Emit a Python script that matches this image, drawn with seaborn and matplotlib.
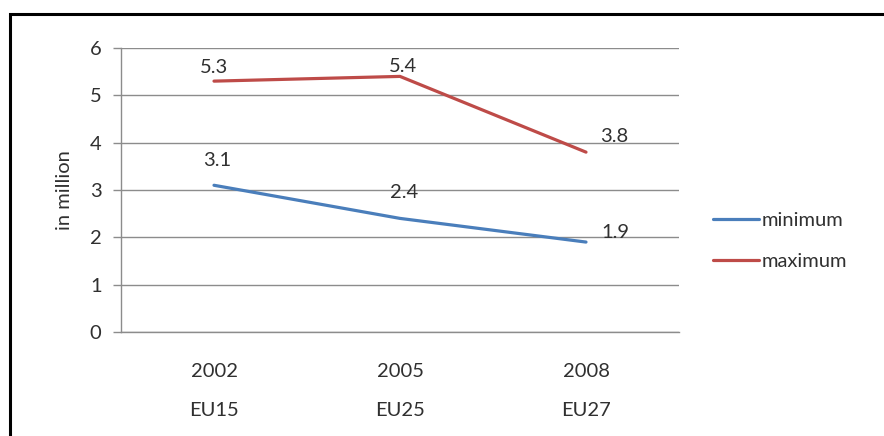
import matplotlib
matplotlib.use("Agg")
import matplotlib.pyplot as plt
from matplotlib.patches import Rectangle
import pandas as pd
import seaborn as sns

# Data
years = ["2002", "2005", "2008"]
groups = ["EU15", "EU25", "EU27"]
minimum = [3.1, 2.4, 1.9]
maximum = [5.3, 5.4, 3.8]
series_names = ["minimum", "maximum"]

# label offsets in points (dx, dy) for each value label
min_offsets = [(2, 18), (3, 19), (21, 7)]
max_offsets = [(0, 10), (2, 7), (20, 11)]

sns.set_theme(style="white")
plt.rcParams["font.family"] = ["Lato", "DejaVu Sans"]

FS = 14.5
TXT = "#303030"
GRID = "#8c8c8c"
colors = {"minimum": "#4a7ebb", "maximum": "#be4b48"}

rows = []
for name, vals in zip(series_names, [minimum, maximum]):
    for i, v in enumerate(vals):
        rows.append({"pos": i, "value": v, "series": name})
df = pd.DataFrame(rows)

fig = plt.figure(figsize=(8.84, 4.36), dpi=100)
ax = fig.add_axes([121 / 884, 1 - 332 / 436, (679 - 121) / 884, (332 - 48) / 436])

sns.lineplot(data=df, x="pos", y="value", hue="series", palette=colors,
             hue_order=series_names, linewidth=2.3, ax=ax, legend=False,
             solid_capstyle="round")

ax.set_xlim(-0.5, 2.5)
ax.set_ylim(0, 6)
ax.set_yticks(range(0, 7))
ax.set_xticks(range(len(years)))
ax.set_xticklabels([f"{y}\n\n{g}" for y, g in zip(years, groups)],
                   fontsize=FS, color=TXT, linespacing=1.2)
ax.set_xticks([-0.5, 0.5, 1.5, 2.5], minor=True)
ax.tick_params(axis="x", which="major", length=0, pad=22)
ax.tick_params(axis="x", which="minor", length=6, width=1, color=GRID, direction="out")
ax.tick_params(axis="y", which="major", length=6, width=1, color=GRID, direction="out",
               labelsize=FS, labelcolor=TXT, pad=8, left=True)
ax.set_xlabel("")
ax.set_ylabel("in million", fontsize=FS, color=TXT, labelpad=12)

ax.grid(axis="y", color=GRID, linewidth=1)
ax.set_axisbelow(True)
for side in ["top", "right"]:
    ax.spines[side].set_visible(False)
for side in ["left", "bottom"]:
    ax.spines[side].set_color(GRID)
    ax.spines[side].set_linewidth(1)

# value labels
for vals, offs in [(minimum, min_offsets), (maximum, max_offsets)]:
    for i, (v, (dx, dy)) in enumerate(zip(vals, offs)):
        ax.annotate(f"{v}", (i, v), xytext=(dx, dy), textcoords="offset points",
                    ha="center", va="center", fontsize=FS, color=TXT)

# legend
handles = [plt.Line2D([], [], color=colors[n], linewidth=2.3) for n in series_names]
fig.legend(handles, series_names, loc="center left",
           bbox_to_anchor=(713 / 884, 1 - 241 / 436), frameon=False,
           fontsize=FS, handlelength=2.3, handletextpad=0.12,
           labelspacing=1.15, borderpad=0, borderaxespad=0,
           labelcolor=TXT)

# outer frame
fig.patches.append(Rectangle((10 / 884, -0.2), 1.2, 1.2 - 14 / 436,
                             transform=fig.transFigure, fill=False,
                             edgecolor="black", linewidth=2.2))

fig.savefig("out.png", dpi=100)
